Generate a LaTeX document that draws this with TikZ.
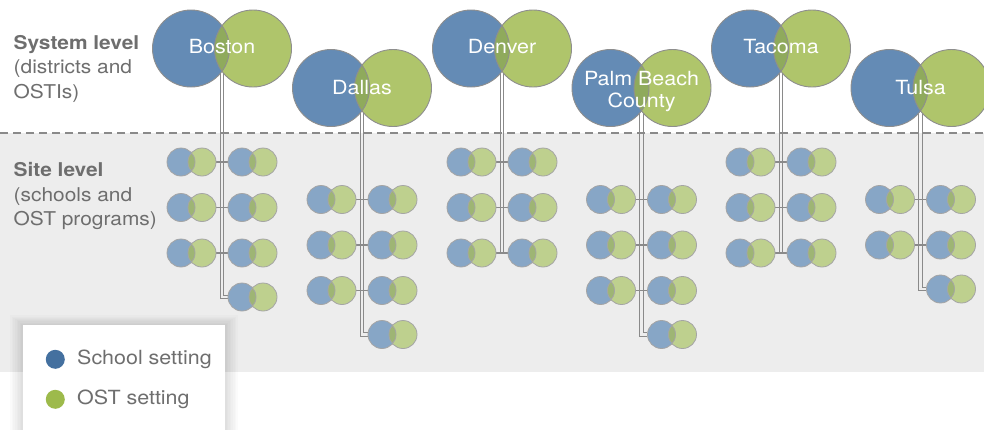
\documentclass[tikz,border=0pt]{standalone}
\usepackage{fontspec}
\setmainfont[FakeStretch=1.1]{TeX Gyre Heros}
\usepackage{xcolor}
\usepackage{tikz}
\usetikzlibrary{calc, positioning}

\definecolor{schoolbig}{HTML}{648BB5}
\definecolor{ostbig}{HTML}{AFC56B}
\definecolor{lensbig}{HTML}{8FAA5C}
\definecolor{schoolsmall}{HTML}{87A6C6}
\definecolor{ostsmall}{HTML}{BED08E}
\definecolor{lenssmall}{HTML}{9EB574}
\definecolor{rimgray}{HTML}{8E8E8E}
\definecolor{linkgray}{HTML}{8A8A8A}
\definecolor{sitebg}{HTML}{EDEDED}
\definecolor{labelgray}{HTML}{6E6E6E}
\definecolor{schooldot}{HTML}{44709F}
\definecolor{ostdot}{HTML}{9DBA4B}

\pgfdeclarelayer{bg}
\pgfsetlayers{bg,main}

% 两圆重叠部分
\newcommand{\pairlens}[5]{%
	\begin{scope}
		\clip (#1.center) circle [radius=#3];
		\fill[#4] (#2.center) circle [radius=#3];
	\end{scope}
	\draw[#5] (#1.center) circle [radius=#3] (#2.center) circle [radius=#3];
}

\begin{document}
\begin{tikzpicture}[x=1pt, y=-1pt]
	% 样式
	\tikzset{
	bigS/.style = {circle, minimum size=77pt, inner sep=0pt, fill=schoolbig},
	bigO/.style = {circle, minimum size=77pt, inner sep=0pt, fill=ostbig},
	smallS/.style = {circle, minimum size=28pt, inner sep=0pt, fill=schoolsmall},
	smallO/.style = {circle, minimum size=28pt, inner sep=0pt, fill=ostsmall},
	bigrim/.style = {draw=rimgray, line width=0.9pt},
	smallrim/.style = {draw=rimgray!80, line width=0.8pt},
	connector/.style = {draw=linkgray, line width=1.1pt},
	citytext/.style = {text=white, font=\fontsize{19.5}{21.5}\selectfont, align=center, inner sep=0pt},
	leveltext/.style = {text=labelgray, font=\fontsize{19}{24.5}\selectfont, align=left, anchor=base west, inner sep=0pt},
	legendtext/.style = {text=labelgray, font=\fontsize{19.5}{22}\selectfont, inner sep=0pt, anchor=west},
	keydot/.style = {circle, minimum size=19pt, inner sep=0pt}
	}

	\useasboundingbox (0,0) rectangle (984,429);

	% 背景
	\begin{pgfonlayer}{bg}
		\fill[sitebg] (0,133) rectangle (984,372);
		\draw[linkgray, line width=1.3pt, dash pattern=on 8pt off 5pt] (0,133) -- (984,133);
	\end{pgfonlayer}

	% 左侧说明
	\node[leveltext] (syslevel) at (13.5,98.3) {\textbf{System level}\\(districts and\\OSTIs)};
	\node[leveltext] (sitelevel) at (13.5,225.7) {\textbf{Site level}\\(schools and\\OST programs)};

	% 各城市
	\foreach \nm/\cx/\cy/\ty/\ry/\full/\ext/\lab in {
		bos/222/48.5/-2/162/3/1/Boston,
		dal/362/88/-0.5/199.5/3/1/Dallas,
		den/502/48.5/-2/162/3/0/Denver,
		pbc/641.5/88/3.5/199.5/3/1/{Palm Beach\\County},
		tac/781/48.5/-2/162/3/0/Tacoma,
		tul/920.5/88/-0.5/199.5/2/1/Tulsa}
	{
		% 系统层
		\node[bigS] (\nm-s) at (\cx-31,\cy) {};
		\node[bigO] (\nm-o) at (\cx+31,\cy) {};
		\pairlens{\nm-s}{\nm-o}{38.5pt}{lensbig}{bigrim}
		\coordinate (\nm-c) at ($(\nm-s)!0.5!(\nm-o)$);
		\node[citytext] (\nm) at (\cx,\cy+\ty) {\lab};

		% 站点层
		\foreach \i in {1,...,\full} {
			\pgfmathsetmacro{\yy}{\ry+(\i-1)*45.5}
			\node[smallS] (\nm-l\i-s) at (\cx-41,\yy) {};
			\node[smallO] (\nm-l\i-o) at (\cx-20,\yy) {};
			\node[smallS] (\nm-r\i-s) at (\cx+20,\yy) {};
			\node[smallO] (\nm-r\i-o) at (\cx+41,\yy) {};
			\pairlens{\nm-l\i-s}{\nm-l\i-o}{14pt}{lenssmall}{smallrim}
			\pairlens{\nm-r\i-s}{\nm-r\i-o}{14pt}{lenssmall}{smallrim}
			\begin{pgfonlayer}{bg}
				\draw[connector] (\nm-l\i-o.east) -- (\nm-r\i-s.west);
			\end{pgfonlayer}
		}

		% 连线
		\ifnum\ext=1
			\pgfmathsetmacro{\yx}{\ry+(\full-1)*45.5+44}
			\pgfmathtruncatemacro{\kk}{\full+1}
			\node[smallS] (\nm-r\kk-s) at (\cx+20,\yx) {};
			\node[smallO] (\nm-r\kk-o) at (\cx+41,\yx) {};
			\pairlens{\nm-r\kk-s}{\nm-r\kk-o}{14pt}{lenssmall}{smallrim}
			\begin{pgfonlayer}{bg}
				\draw[connector] ([xshift=-1.75pt]\nm-c) |- ([yshift=-1.75pt]\nm-r\kk-s.west);
				\draw[connector] ([xshift=1.75pt]\nm-c) |- ([yshift=1.75pt]\nm-r\kk-s.west);
			\end{pgfonlayer}
		\else
			\coordinate (\nm-end) at (\nm-c |- \nm-r\full-s.west);
			\begin{pgfonlayer}{bg}
				\draw[connector] ([xshift=-1.75pt]\nm-c) -- ([xshift=-1.75pt]\nm-end);
				\draw[connector] ([xshift=1.75pt]\nm-c) -- ([xshift=1.75pt]\nm-end);
			\end{pgfonlayer}
		\fi
	}

	% 图例
	\foreach \d in {1,...,8}
		\fill[black, opacity=0.014] (23-\d*1.6,325-\d*1.2) rectangle (225+\d*1.6,440);
	\node[fill=white, minimum width=202pt, minimum height=115pt, anchor=north west, inner sep=0pt] (legend) at (23,325) {};
	\node[keydot, fill=schooldot] (sdot) at (55.3,359.3) {};
	\node[keydot, fill=ostdot] (odot) at (55.3,399.3) {};
	\node[legendtext, right=12pt of sdot] (stext) {School setting};
	\node[legendtext, right=12pt of odot] (otext) {OST setting};

\end{tikzpicture}
\end{document}
